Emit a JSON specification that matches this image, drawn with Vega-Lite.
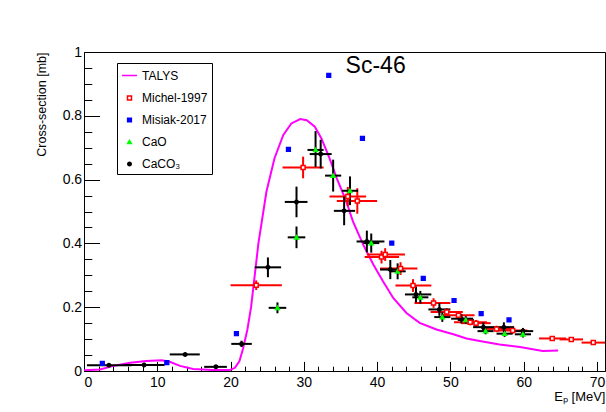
{
  "$schema": "https://vega.github.io/schema/vega-lite/v6.json",
  "autosize": "none",
  "width": 521,
  "height": 319,
  "padding": {"left": 84, "top": 52, "right": 1, "bottom": 41},
  "background": "white",
  "config": {
    "font": "Liberation Sans",
    "view": {"stroke": "black", "strokeWidth": 1},
    "axis": {"grid": false, "domainColor": "black", "tickColor": "black", "labelColor": "black", "titleColor": "black", "labelFont": "Liberation Sans", "titleFont": "Liberation Sans", "titleFontWeight": "normal"},
    "legend": {"title": null, "orient": "none", "legendX": 33, "legendY": 11, "fillColor": "white", "strokeColor": "black", "padding": 4,
      "labelFontSize": 12, "labelColor": "black", "labelFont": "Liberation Sans", "rowPadding": 10, "labelOffset": 4, "symbolStrokeWidth": 1.5}
  },
  "resolve": {"axis": {"x": "independent", "y": "independent"}},
  "datasets": {
    "talys": [
      {"x": 0, "y": 0.002}, {"x": 2.2, "y": 0.005}, {"x": 4.0, "y": 0.016}, {"x": 6.3, "y": 0.026},
      {"x": 8.5, "y": 0.031}, {"x": 10.6, "y": 0.034}, {"x": 11.7, "y": 0.029}, {"x": 13.1, "y": 0.016},
      {"x": 14.9, "y": 0.006}, {"x": 17.6, "y": 0.003}, {"x": 19.9, "y": 0.003}, {"x": 20.6, "y": 0.01},
      {"x": 21.2, "y": 0.03}, {"x": 21.7, "y": 0.07}, {"x": 22.3, "y": 0.13}, {"x": 22.8, "y": 0.2},
      {"x": 23.3, "y": 0.3}, {"x": 23.8, "y": 0.4}, {"x": 24.9, "y": 0.5625}, {"x": 26.0, "y": 0.667},
      {"x": 27.2, "y": 0.74}, {"x": 28.3, "y": 0.776}, {"x": 29.5, "y": 0.79}, {"x": 30.4, "y": 0.786},
      {"x": 31.5, "y": 0.766}, {"x": 32.4, "y": 0.729}, {"x": 33.5, "y": 0.667}, {"x": 34.5, "y": 0.604},
      {"x": 35.8, "y": 0.531}, {"x": 36.7, "y": 0.469}, {"x": 38.1, "y": 0.396}, {"x": 39.5, "y": 0.333},
      {"x": 40.8, "y": 0.281}, {"x": 42.2, "y": 0.229}, {"x": 44.0, "y": 0.182}, {"x": 45.8, "y": 0.151},
      {"x": 48.1, "y": 0.13}, {"x": 50.4, "y": 0.115}, {"x": 52.2, "y": 0.102}, {"x": 54.0, "y": 0.094},
      {"x": 56.7, "y": 0.083}, {"x": 59.5, "y": 0.075}, {"x": 62.6, "y": 0.0625}, {"x": 64.7, "y": 0.064}
    ],
    "pts": [
      {"s": "CaCO₃", "x": 3.4, "y": 0.018, "xl": 0.4, "xh": 6.5, "yl": 0.014, "yh": 0.022},
      {"s": "CaCO₃", "x": 8.2, "y": 0.019, "xl": 5.6, "xh": 11.0, "yl": 0.015, "yh": 0.023},
      {"s": "CaCO₃", "x": 13.8, "y": 0.052, "xl": 11.7, "xh": 15.8, "yl": 0.047, "yh": 0.057},
      {"s": "CaCO₃", "x": 18.0, "y": 0.013, "xl": 16.4, "xh": 19.5, "yl": 0.009, "yh": 0.017},
      {"s": "CaCO₃", "x": 21.5, "y": 0.085, "xl": 20.1, "xh": 22.9, "yl": 0.075, "yh": 0.095},
      {"s": "CaCO₃", "x": 25.1, "y": 0.325, "xl": 23.3, "xh": 26.9, "yl": 0.294, "yh": 0.356},
      {"s": "CaCO₃", "x": 29.0, "y": 0.53, "xl": 27.4, "xh": 30.5, "yl": 0.482, "yh": 0.578},
      {"s": "CaCO₃", "x": 32.3, "y": 0.68, "xl": 30.8, "xh": 33.8, "yl": 0.635, "yh": 0.725},
      {"s": "CaCO₃", "x": 35.5, "y": 0.502, "xl": 34.1, "xh": 37.0, "yl": 0.457, "yh": 0.547},
      {"s": "CaCO₃", "x": 38.6, "y": 0.406, "xl": 37.2, "xh": 41.0, "yl": 0.372, "yh": 0.44},
      {"s": "CaCO₃", "x": 41.8, "y": 0.318, "xl": 40.4, "xh": 43.6, "yl": 0.288, "yh": 0.348},
      {"s": "CaCO₃", "x": 45.3, "y": 0.24, "xl": 43.8, "xh": 47.4, "yl": 0.215, "yh": 0.265},
      {"s": "CaCO₃", "x": 48.5, "y": 0.193, "xl": 47.0, "xh": 50.0, "yl": 0.173, "yh": 0.213},
      {"s": "CaCO₃", "x": 51.5, "y": 0.164, "xl": 50.1, "xh": 53.1, "yl": 0.149, "yh": 0.179},
      {"s": "CaCO₃", "x": 54.5, "y": 0.1375, "xl": 53.1, "xh": 56.0, "yl": 0.1225, "yh": 0.1525},
      {"s": "CaCO₃", "x": 57.3, "y": 0.1375, "xl": 55.9, "xh": 58.7, "yl": 0.1225, "yh": 0.1525},
      {"s": "CaCO₃", "x": 59.9, "y": 0.125, "xl": 58.5, "xh": 61.3, "yl": 0.115, "yh": 0.135},
      {"s": "CaO", "x": 26.4, "y": 0.198, "xl": 25.2, "xh": 27.6, "yl": 0.181, "yh": 0.215},
      {"s": "CaO", "x": 29.0, "y": 0.419, "xl": 27.8, "xh": 30.2, "yl": 0.385, "yh": 0.453},
      {"s": "CaO", "x": 31.6, "y": 0.693, "xl": 30.5, "xh": 32.7, "yl": 0.64, "yh": 0.752},
      {"s": "CaO", "x": 34.0, "y": 0.6125, "xl": 32.9, "xh": 35.1, "yl": 0.5625, "yh": 0.6625},
      {"s": "CaO", "x": 36.3, "y": 0.565, "xl": 35.2, "xh": 37.4, "yl": 0.52, "yh": 0.61},
      {"s": "CaO", "x": 39.2, "y": 0.401, "xl": 38.1, "xh": 40.3, "yl": 0.371, "yh": 0.431},
      {"s": "CaO", "x": 42.8, "y": 0.3125, "xl": 41.7, "xh": 43.9, "yl": 0.2875, "yh": 0.3375},
      {"s": "CaO", "x": 45.9, "y": 0.231, "xl": 44.8, "xh": 47.0, "yl": 0.211, "yh": 0.251},
      {"s": "CaO", "x": 48.9, "y": 0.169, "xl": 47.8, "xh": 50.0, "yl": 0.154, "yh": 0.184},
      {"s": "CaO", "x": 52.1, "y": 0.16, "xl": 51.0, "xh": 53.2, "yl": 0.148, "yh": 0.172},
      {"s": "CaO", "x": 54.8, "y": 0.125, "xl": 53.7, "xh": 55.9, "yl": 0.115, "yh": 0.135},
      {"s": "CaO", "x": 57.4, "y": 0.117, "xl": 56.3, "xh": 58.5, "yl": 0.107, "yh": 0.127},
      {"s": "CaO", "x": 59.9, "y": 0.115, "xl": 58.8, "xh": 61.0, "yl": 0.105, "yh": 0.125},
      {"s": "Michel-1997", "x": 23.5, "y": 0.269, "xl": 20.0, "xh": 27.0, "yl": 0.254, "yh": 0.284},
      {"s": "Michel-1997", "x": 29.9, "y": 0.638, "xl": 27.1, "xh": 32.7, "yl": 0.604, "yh": 0.672},
      {"s": "Michel-1997", "x": 36.0, "y": 0.547, "xl": 33.5, "xh": 38.5, "yl": 0.517, "yh": 0.577},
      {"s": "Michel-1997", "x": 37.3, "y": 0.533, "xl": 34.5, "xh": 40.0, "yl": 0.493, "yh": 0.573},
      {"s": "Michel-1997", "x": 40.6, "y": 0.357, "xl": 38.3, "xh": 43.0, "yl": 0.337, "yh": 0.377},
      {"s": "Michel-1997", "x": 41.1, "y": 0.365, "xl": 38.6, "xh": 43.8, "yl": 0.345, "yh": 0.385},
      {"s": "Michel-1997", "x": 43.2, "y": 0.321, "xl": 40.4, "xh": 45.5, "yl": 0.301, "yh": 0.341},
      {"s": "Michel-1997", "x": 44.9, "y": 0.268, "xl": 42.5, "xh": 47.4, "yl": 0.248, "yh": 0.288},
      {"s": "Michel-1997", "x": 47.7, "y": 0.213, "xl": 45.1, "xh": 50.0, "yl": 0.198, "yh": 0.228},
      {"s": "Michel-1997", "x": 49.5, "y": 0.185, "xl": 47.3, "xh": 51.7, "yl": 0.173, "yh": 0.197},
      {"s": "Michel-1997", "x": 51.1, "y": 0.175, "xl": 48.8, "xh": 53.3, "yl": 0.163, "yh": 0.187},
      {"s": "Michel-1997", "x": 52.7, "y": 0.153, "xl": 50.5, "xh": 55.0, "yl": 0.143, "yh": 0.163},
      {"s": "Michel-1997", "x": 53.5, "y": 0.15, "xl": 51.5, "xh": 55.5, "yl": 0.14, "yh": 0.16},
      {"s": "Michel-1997", "x": 56.3, "y": 0.132, "xl": 54.3, "xh": 58.3, "yl": 0.122, "yh": 0.142},
      {"s": "Michel-1997", "x": 58.5, "y": 0.127, "xl": 56.5, "xh": 60.5, "yl": 0.117, "yh": 0.137},
      {"s": "Michel-1997", "x": 63.9, "y": 0.102, "xl": 62.1, "xh": 65.8, "yl": 0.097, "yh": 0.107},
      {"s": "Michel-1997", "x": 66.5, "y": 0.099, "xl": 64.9, "xh": 68.1, "yl": 0.094, "yh": 0.104},
      {"s": "Michel-1997", "x": 69.5, "y": 0.089, "xl": 67.9, "xh": 71.5, "yl": 0.084, "yh": 0.094},
      {"s": "Misiak-2017", "x": 2.5, "y": 0.024},
      {"s": "Misiak-2017", "x": 11.3, "y": 0.026},
      {"s": "Misiak-2017", "x": 20.8, "y": 0.117},
      {"s": "Misiak-2017", "x": 27.9, "y": 0.695},
      {"s": "Misiak-2017", "x": 33.4, "y": 0.927},
      {"s": "Misiak-2017", "x": 38.0, "y": 0.729},
      {"s": "Misiak-2017", "x": 42.0, "y": 0.401},
      {"s": "Misiak-2017", "x": 46.3, "y": 0.29},
      {"s": "Misiak-2017", "x": 50.5, "y": 0.221},
      {"s": "Misiak-2017", "x": 54.2, "y": 0.18},
      {"s": "Misiak-2017", "x": 58.0, "y": 0.16}
    ],
    "lab": [{"x": 39.8, "y": 0.933, "t": "Sc-46"}]
  },
  "layer": [
    {
      "data": {"name": "talys"},
      "mark": {"type": "line", "color": "#ff00ff", "strokeWidth": 2, "clip": true},
      "encoding": {
        "x": {"field": "x", "type": "quantitative", "scale": {"domain": [0, 71.1], "nice": false},
          "axis": {"values": [0, 10, 20, 30, 40, 50, 60, 70], "labelExpr": "'' + datum.value", "tickSize": -9.6, "labelFontSize": 14, "labelPadding": 14,
            "title": "Eₚ [MeV]", "titleFontSize": 13, "titleAnchor": "end", "titlePadding": 1}},
        "y": {"field": "y", "type": "quantitative", "scale": {"domain": [0, 1], "nice": false},
          "axis": {"values": [0, 0.2, 0.4, 0.6, 0.8, 1], "labelExpr": "'' + datum.value", "tickSize": -15.6, "labelFontSize": 14, "labelPadding": 18,
            "title": "Cross-section [mb]", "titleFontSize": 12.5, "titleAnchor": "end", "titlePadding": 14}}
      }
    },
    {
      "data": {"name": "pts"},
      "transform": [{"filter": "datum.s === 'Michel-1997'"}],
      "mark": {"type": "rule", "color": "#ff0000", "strokeWidth": 2, "clip": true},
      "encoding": {
        "x": {"field": "xl", "type": "quantitative", "axis": null},
        "x2": {"field": "xh"},
        "y": {"field": "y", "type": "quantitative", "axis": null}
      }
    },
    {
      "data": {"name": "pts"},
      "transform": [{"filter": "datum.s === 'Michel-1997'"}],
      "mark": {"type": "rule", "color": "#ff0000", "strokeWidth": 2, "clip": true},
      "encoding": {
        "x": {"field": "x", "type": "quantitative", "axis": null},
        "y": {"field": "yl", "type": "quantitative", "axis": null},
        "y2": {"field": "yh"}
      }
    },
    {
      "data": {"name": "pts"},
      "transform": [{"filter": "datum.s === 'CaO' || datum.s === 'CaCO₃'"}],
      "mark": {"type": "rule", "color": "#000000", "strokeWidth": 2, "clip": true},
      "encoding": {
        "x": {"field": "xl", "type": "quantitative", "axis": null},
        "x2": {"field": "xh"},
        "y": {"field": "y", "type": "quantitative", "axis": null}
      }
    },
    {
      "data": {"name": "pts"},
      "transform": [{"filter": "datum.s === 'CaO' || datum.s === 'CaCO₃'"}],
      "mark": {"type": "rule", "color": "#000000", "strokeWidth": 2, "clip": true},
      "encoding": {
        "x": {"field": "x", "type": "quantitative", "axis": null},
        "y": {"field": "yl", "type": "quantitative", "axis": null},
        "y2": {"field": "yh"}
      }
    },
    {
      "data": {"name": "pts"},
      "mark": {"type": "point", "strokeWidth": 1.5, "opacity": 1, "clip": true},
      "encoding": {
        "x": {"field": "x", "type": "quantitative",
          "axis": {"values": [2, 4, 6, 8, 12, 14, 16, 18, 22, 24, 26, 28, 32, 34, 36, 38, 42, 44, 46, 48, 52, 54, 56, 58, 62, 64, 66, 68], "orient": "bottom", "tickSize": -4.8, "labels": false, "domain": false, "title": null}},
        "y": {"field": "y", "type": "quantitative",
          "axis": {"values": [0.05, 0.1, 0.15, 0.25, 0.3, 0.35, 0.45, 0.5, 0.55, 0.65, 0.7, 0.75, 0.85, 0.9, 0.95], "orient": "left", "tickSize": -7.8, "labels": false, "domain": false, "title": null}},
        "fill": {"field": "s", "type": "nominal",
          "scale": {"domain": ["TALYS", "Michel-1997", "Misiak-2017", "CaO", "CaCO₃"], "range": ["transparent", "#ffffff", "#0000ff", "#00ff00", "#000000"]}},
        "stroke": {"field": "s", "type": "nominal",
          "scale": {"domain": ["TALYS", "Michel-1997", "Misiak-2017", "CaO", "CaCO₃"], "range": ["#ff00ff", "#ff0000", "#0000ff", "#00ff00", "#000000"]}},
        "shape": {"field": "s", "type": "nominal",
          "scale": {"domain": ["TALYS", "Michel-1997", "Misiak-2017", "CaO", "CaCO₃"], "range": ["stroke", "square", "square", "triangle-up", "circle"]}},
        "size": {"field": "s", "type": "nominal",
          "scale": {"type": "ordinal", "domain": ["TALYS", "Michel-1997", "Misiak-2017", "CaO", "CaCO₃"], "range": [225, 16, 14, 14, 12]}}
      }
    },
    {
      "data": {"name": "lab"},
      "mark": {"type": "text", "fontSize": 23, "align": "center", "baseline": "alphabetic", "font": "Liberation Sans", "color": "black"},
      "encoding": {
        "x": {"field": "x", "type": "quantitative", "axis": null},
        "y": {"field": "y", "type": "quantitative", "axis": null},
        "text": {"field": "t"}
      }
    }
  ]
}
